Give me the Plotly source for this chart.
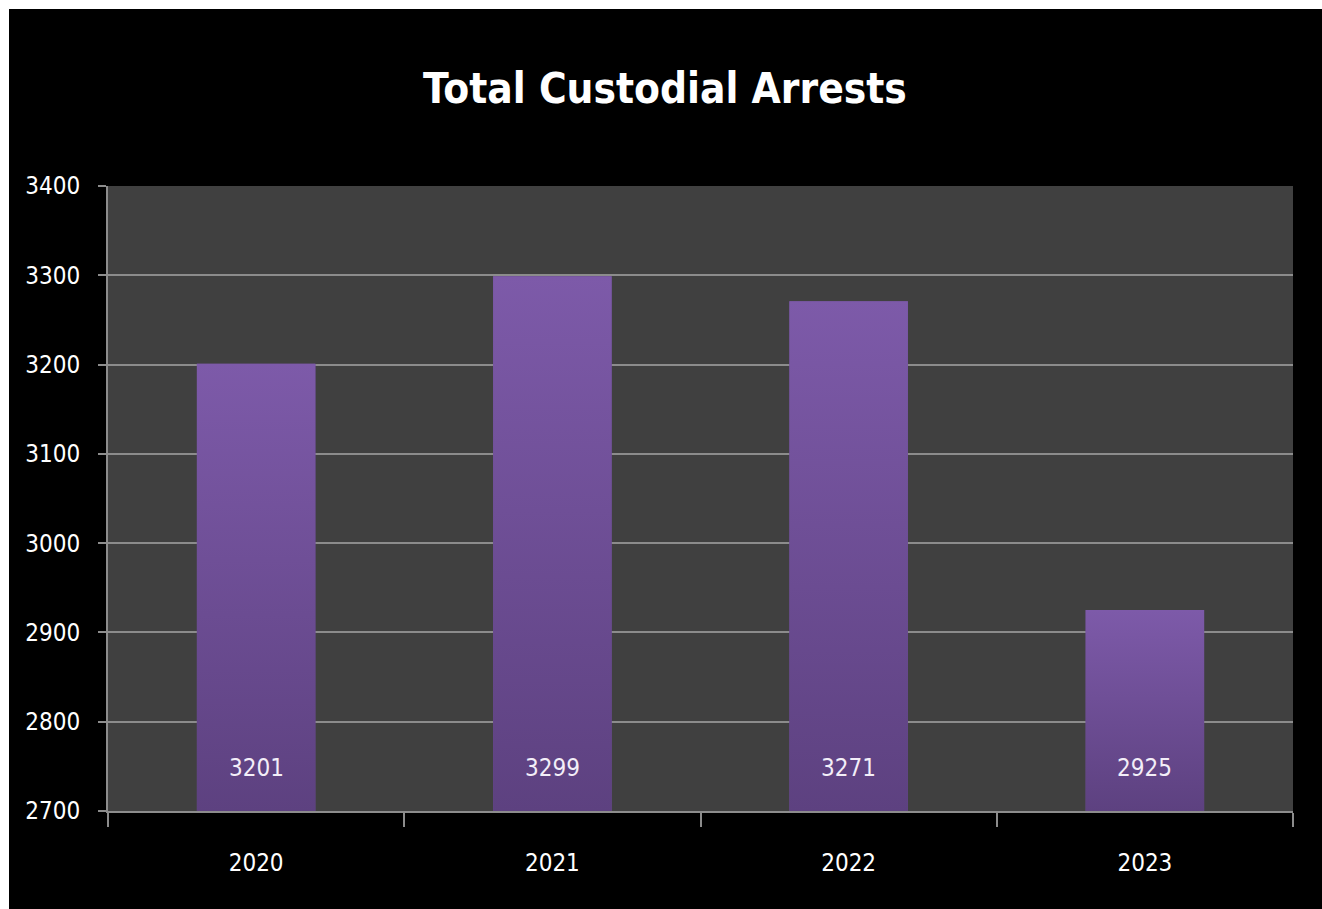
import plotly.graph_objects as go

# Yearly totals
years = ["2020", "2021", "2022", "2023"]
arrests = [3201, 3299, 3271, 2925]
y_ticks = [2700, 2800, 2900, 3000, 3100, 3200, 3300, 3400]

W, H = 1322, 909
M_L, M_R, M_T, M_B = 108, 29, 186, 98
FONT = "Liberation Sans Narrow, Arial Narrow, DejaVu Sans Condensed, sans-serif"

BAR_TOP = "#7d5aa9"
BAR_BOTTOM = "#5d4180"
BARGAP = 0.6
y_min, y_max = y_ticks[0], y_ticks[-1]
x_range = [-0.5, len(years) - 0.5]

fig = go.Figure()

# Base bars (category axis gives the boundary ticks)
fig.add_trace(go.Bar(
    x=years, y=arrests,
    marker=dict(color="#6d4e95", line=dict(width=0)),
    hoverinfo="skip", showlegend=False,
))

# Vertical gradient fill laid over each bar
half = (1 - BARGAP) / 2
for i, v in enumerate(arrests):
    fig.add_trace(go.Scatter(
        x=[i - half, i + half, i + half, i - half, i - half],
        y=[y_min, y_min, v, v, y_min],
        xaxis="x2", yaxis="y",
        mode="lines", line=dict(width=0),
        fill="toself",
        fillgradient=dict(type="vertical",
                          colorscale=[[0, BAR_BOTTOM], [1, BAR_TOP]]),
        hoverinfo="skip", showlegend=False,
    ))

# Value labels near the foot of each bar
for i, v in enumerate(arrests):
    fig.add_annotation(
        x=i, y=y_min, xref="x2", yref="y",
        text=str(v), showarrow=False, yshift=43,
        font=dict(family=FONT, size=24, color="#f3eef8"),
    )

# Page frame: white strips on top/left, black right/bottom edges
pw = W - M_L - M_R
ph = H - M_T - M_B
def px_x(p):
    return (p - M_L) / pw
def px_y(p):
    return 1 - (p - M_T) / ph
def page_rect(x0, y0, x1, y1, color):
    fig.add_shape(type="rect", xref="paper", yref="paper",
                  x0=px_x(x0), x1=px_x(x1), y0=px_y(y1), y1=px_y(y0),
                  fillcolor=color, line=dict(width=0), layer="above")
page_rect(9, H - 14, W, H, "black")
page_rect(W - 14, 9, W, H, "black")
page_rect(0, 0, W, 9, "white")
page_rect(0, 0, 9, H, "white")

fig.update_layout(
    width=W, height=H,
    margin=dict(l=M_L, r=M_R, t=M_T, b=M_B, pad=0),
    paper_bgcolor="black",
    plot_bgcolor="#404040",
    bargap=BARGAP,
    title=dict(
        text="<b>Total Custodial Arrests</b>",
        x=0.503, xanchor="center", y=1 - 88 / H, yanchor="middle",
        font=dict(family=FONT, size=42, color="white"),
    ),
    xaxis=dict(
        type="category",
        range=x_range,
        tickson="boundaries",
        ticks="outside", ticklen=14, tickwidth=2, tickcolor="#8c8c8c",
        showline=True, linecolor="#8c8c8c", linewidth=2,
        showgrid=False, automargin=False, tickangle=0,
        tickfont=dict(family=FONT, size=24, color="white"),
        ticklabelstandoff=29,
    ),
    xaxis2=dict(overlaying="x", range=x_range, visible=False),
    yaxis=dict(
        range=[y_min, y_max],
        tickvals=y_ticks,
        ticks="outside", ticklen=8, tickwidth=2, tickcolor="#8c8c8c",
        showline=True, linecolor="#8c8c8c", linewidth=2,
        showgrid=True, gridcolor="#8c8c8c", gridwidth=2,
        zeroline=False, automargin=False,
        tickfont=dict(family=FONT, size=24, color="white"),
        ticklabelstandoff=13,
    ),
)

fig.write_html("out.html")
